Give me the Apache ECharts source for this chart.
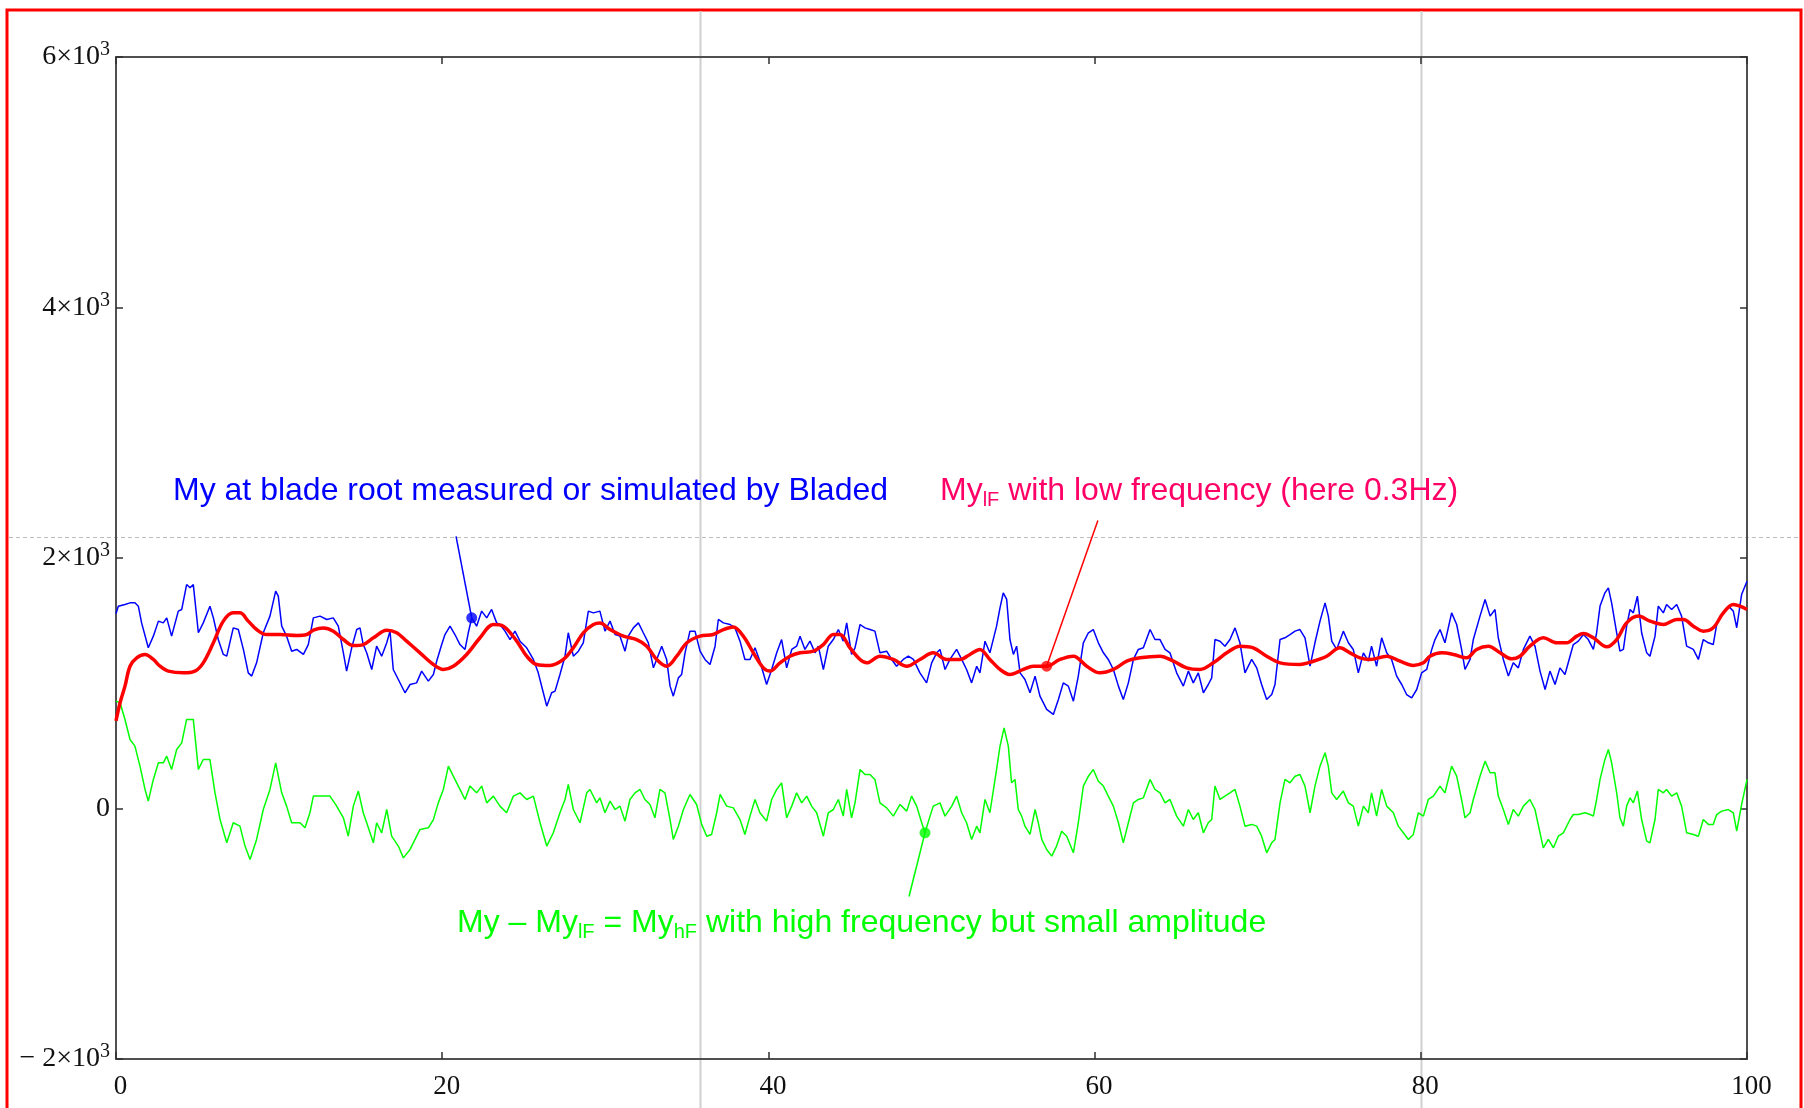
<!DOCTYPE html>
<html>
<head>
<meta charset="utf-8">
<script src="https://cdn.jsdelivr.net/npm/echarts@6/dist/echarts.min.js"></script>
<style>
  html, body { margin: 0; padding: 0; background: #fff; }
  #chart { width: 1804px; height: 1108px; }
</style>
</head>
<body>
<div id="chart"></div>
<script>
// My at blade root (measured / Bladed), time in s
const blueTime = [
  0, 0.14, 0.55, 0.86, 1.16, 1.37, 1.57, 1.98, 2.29, 2.6, 2.9, 3.11, 3.41, 3.82, 4.03, 4.33, 4.54, 4.74, 5.05, 5.35,
  5.76, 5.97, 6.27, 6.58, 6.79, 7.19, 7.5, 7.81, 8.11, 8.32, 8.62, 9.03, 9.44, 9.79, 9.95, 10.16, 10.46, 10.77, 11.08, 11.49,
  11.79, 12.1, 12.51, 12.92, 13.32, 13.63, 13.94, 14.14, 14.45, 14.76, 14.96, 15.16, 15.37, 15.68, 15.98, 16.29, 16.6, 16.8, 17.0, 17.31,
  17.72, 18.03, 18.43, 18.74, 19.15, 19.46, 19.66, 19.97, 20.17, 20.48, 20.78, 21.09, 21.4, 21.6, 21.81, 22.11, 22.42, 22.73, 23.03, 23.34,
  23.54, 23.85, 24.16, 24.46, 24.77, 25.18, 25.59, 25.89, 26.2, 26.41, 26.71, 26.92, 27.22, 27.53, 27.73, 28.04, 28.35, 28.65, 28.96, 29.27,
  29.67, 29.98, 30.29, 30.6, 30.9, 31.21, 31.41, 31.72, 32.03, 32.33, 32.64, 32.95, 33.15, 33.46, 33.76, 33.97, 34.17, 34.48, 34.68, 34.89,
  35.19, 35.5, 35.81, 36.11, 36.42, 36.73, 36.93, 37.24, 37.65, 37.95, 38.26, 38.56, 38.87, 39.18, 39.48, 39.89, 40.2, 40.51, 40.81, 41.12,
  41.43, 41.73, 41.94, 42.24, 42.55, 42.86, 43.06, 43.37, 43.67, 43.98, 44.29, 44.59, 44.8, 45.1, 45.31, 45.62, 45.92, 46.23, 46.53, 46.84,
  47.25, 47.56, 47.86, 48.27, 48.58, 48.89, 49.29, 49.7, 50.01, 50.32, 50.52, 50.83, 51.13, 51.54, 51.85, 52.15, 52.46, 52.77, 52.97, 53.28,
  53.58, 53.99, 54.2, 54.4, 54.61, 54.81, 55.02, 55.22, 55.43, 55.73, 56.04, 56.35, 56.65, 57.06, 57.47, 57.78, 58.08, 58.39, 58.7, 59.0,
  59.31, 59.62, 59.92, 60.23, 60.54, 60.84, 61.15, 61.46, 61.76, 62.07, 62.38, 62.68, 62.99, 63.4, 63.7, 64.01, 64.32, 64.62, 65.03, 65.44,
  65.75, 66.05, 66.36, 66.67, 66.97, 67.18, 67.38, 67.69, 67.99, 68.3, 68.61, 68.91, 69.22, 69.63, 69.94, 70.24, 70.55, 70.86, 71.06, 71.37,
  71.67, 71.98, 72.29, 72.59, 72.9, 73.21, 73.51, 73.82, 74.13, 74.33, 74.54, 74.84, 75.25, 75.56, 75.86, 76.17, 76.48, 76.78, 76.98, 77.29,
  77.6, 77.91, 78.21, 78.52, 78.83, 79.13, 79.44, 79.75, 80.05, 80.36, 80.67, 80.87, 81.18, 81.48, 81.89, 82.2, 82.5, 82.71, 83.02, 83.22,
  83.63, 83.94, 84.25, 84.55, 84.75, 85.06, 85.37, 85.67, 85.98, 86.29, 86.69, 87.0, 87.31, 87.62, 87.92, 88.23, 88.53, 88.84, 89.15, 89.35,
  89.66, 89.97, 90.27, 90.58, 90.78, 90.99, 91.29, 91.5, 91.7, 92.01, 92.21, 92.42, 92.62, 92.83, 93.03, 93.28, 93.54, 93.85, 94.05, 94.36,
  94.56, 94.87, 95.07, 95.38, 95.69, 95.99, 96.3, 96.71, 97.02, 97.32, 97.63, 97.93, 98.14, 98.45, 98.86, 99.16, 99.37, 99.67, 100
];
const blueMy = [
  1555, 1615, 1629, 1642, 1642, 1615, 1482, 1283, 1376, 1496, 1482, 1522, 1376, 1576, 1589, 1788, 1762, 1788, 1403, 1482,
  1615, 1522, 1349, 1230, 1216, 1442, 1429, 1270, 1083, 1057, 1163, 1403, 1536, 1735, 1695, 1456, 1376, 1256, 1270, 1230,
  1309, 1522, 1536, 1509, 1522, 1456, 1243, 1097, 1283, 1429, 1442, 1309, 1243, 1110, 1296, 1216, 1323, 1416, 1110, 1030,
  924, 990, 1003, 1097, 1017, 1070, 1176, 1309, 1389, 1456, 1389, 1309, 1270, 1403, 1522, 1456, 1576, 1522, 1589, 1482,
  1469, 1416, 1349, 1416, 1336, 1283, 1190, 1083, 924, 817, 924, 937, 1070, 1216, 1403, 1216, 1256, 1323, 1576, 1562,
  1576, 1416, 1496, 1389, 1376, 1256, 1376, 1442, 1482, 1403, 1323, 1123, 1190, 1296, 1190, 977, 897, 1043, 1070, 1243,
  1416, 1416, 1256, 1190, 1150, 1296, 1509, 1482, 1469, 1442, 1336, 1190, 1190, 1283, 1176, 990, 1110, 1243, 1349, 1123,
  1270, 1296, 1376, 1270, 1336, 1243, 1296, 1110, 1296, 1349, 1429, 1336, 1482, 1230, 1283, 1469, 1442, 1429, 1416, 1243,
  1256, 1190, 1136, 1190, 1216, 1190, 1083, 1003, 1163, 1243, 1270, 1110, 1190, 1270, 1190, 1110, 1003, 1136, 1083, 1336,
  1243, 1456, 1602, 1722, 1669, 1349, 1230, 1296, 1083, 1030, 924, 1057, 897, 791, 751, 870, 1003, 977, 857, 1057,
  1323, 1403, 1429, 1323, 1243, 1190, 1110, 977, 870, 1003, 1190, 1270, 1283, 1429, 1349, 1349, 1270, 1243, 1083, 977,
  1097, 1003, 1083, 924, 990, 1043, 1349, 1336, 1296, 1349, 1442, 1323, 1083, 1190, 1123, 990, 870, 910, 990, 1349,
  1363, 1389, 1416, 1429, 1363, 1136, 1323, 1496, 1642, 1536, 1336, 1270, 1416, 1323, 1270, 1083, 1243, 1176, 1296, 1136,
  1363, 1243, 1190, 1057, 990, 910, 884, 950, 1083, 1110, 1270, 1349, 1429, 1323, 1562, 1469, 1270, 1110, 1190, 1349,
  1536, 1669, 1536, 1589, 1363, 1190, 1057, 1163, 1123, 1270, 1376, 1296, 1097, 950, 1097, 990, 1123, 1070, 1216, 1309,
  1336, 1389, 1349, 1270, 1403, 1616, 1722, 1762, 1642, 1403, 1256, 1270, 1456, 1589, 1562, 1695, 1403, 1243, 1216, 1376,
  1616, 1562, 1629, 1589, 1629, 1536, 1296, 1270, 1190, 1349, 1323, 1309, 1469, 1549, 1616, 1576, 1443, 1709, 1815
];

// My_lF, low-pass part (0.3 Hz)
const redTime = [
  0, 0.25, 0.55, 0.86, 1.27, 1.78, 2.29, 2.7, 3.21, 4.13, 4.84, 5.35, 5.97, 6.58, 7.19, 7.6, 8.11, 8.62, 9.24, 10.06,
  11.08, 11.69, 12.1, 12.71, 13.33, 13.94, 14.55, 15.16, 15.78, 16.6, 17.21, 17.82, 18.64, 19.46, 20.07, 20.68, 21.5, 22.32, 23.14, 23.75,
  24.57, 25.18, 25.79, 26.61, 27.43, 28.04, 28.65, 29.27, 29.67, 30.29, 31.11, 31.92, 32.54, 33.15, 33.76, 34.38, 35.0, 35.81, 36.62, 37.24,
  37.85, 38.46, 39.08, 39.69, 40.1, 40.71, 41.32, 41.94, 42.76, 43.37, 43.98, 44.39, 45.0, 45.62, 46.03, 46.84, 47.66, 48.48, 49.29, 50.11,
  50.93, 51.75, 52.36, 52.97, 53.58, 54.2, 54.81, 55.63, 56.24, 57.06, 57.88, 58.7, 59.52, 60.33, 61.15, 61.97, 62.78, 64.01, 64.83, 65.64,
  66.46, 67.28, 68.1, 68.92, 69.73, 70.55, 71.37, 72.59, 73.41, 74.23, 75.04, 75.66, 76.27, 76.89, 77.91, 78.73, 79.54, 80.16, 80.56, 81.28,
  82.0, 82.81, 83.42, 84.14, 84.86, 85.58, 86.08, 86.69, 87.52, 88.33, 88.94, 89.56, 89.97, 90.58, 91.4, 92.01, 92.62, 93.34, 94.05, 94.87,
  95.69, 96.1, 96.71, 97.32, 97.93, 98.55, 99.16, 99.57, 100
];
const redMyLF = [
  700, 844, 977, 1136, 1203, 1230, 1190, 1136, 1097, 1083, 1097, 1163, 1323, 1496, 1562, 1562, 1496, 1429, 1389, 1389,
  1381, 1389, 1424, 1442, 1416, 1349, 1301, 1309, 1363, 1424, 1403, 1336, 1243, 1150, 1110, 1136, 1230, 1363, 1469, 1456,
  1336, 1216, 1150, 1142, 1190, 1283, 1403, 1469, 1482, 1429, 1376, 1349, 1296, 1190, 1136, 1216, 1323, 1376, 1389, 1429,
  1450, 1376, 1243, 1123, 1097, 1163, 1216, 1243, 1256, 1309, 1389, 1389, 1283, 1190, 1163, 1216, 1190, 1136, 1190, 1243,
  1190, 1190, 1230, 1270, 1190, 1110, 1070, 1110, 1136, 1136, 1190, 1216, 1136, 1083, 1110, 1176, 1203, 1216, 1176, 1123,
  1110, 1163, 1243, 1296, 1283, 1216, 1163, 1150, 1176, 1216, 1283, 1243, 1203, 1190, 1216, 1176, 1142, 1163, 1216, 1243,
  1230, 1203, 1270, 1296, 1243, 1195, 1216, 1296, 1363, 1323, 1323, 1376, 1397, 1363, 1291, 1349, 1482, 1536, 1496, 1469,
  1509, 1509, 1456, 1416, 1443, 1562, 1629, 1616, 1589
];

// My - My_lF = My_hF, high-frequency part
const greenTime = [
  0, 0.25, 0.55, 0.86, 1.16, 1.47, 1.78, 1.98, 2.29, 2.6, 2.9, 3.11, 3.41, 3.72, 4.03, 4.33, 4.74, 5.05, 5.35, 5.76,
  6.07, 6.38, 6.79, 7.19, 7.6, 7.91, 8.22, 8.62, 9.03, 9.44, 9.79, 10.16, 10.46, 10.77, 11.28, 11.59, 11.89, 12.1, 12.51, 13.12,
  13.53, 13.94, 14.24, 14.55, 14.86, 15.16, 15.37, 15.78, 15.98, 16.29, 16.6, 16.9, 17.31, 17.62, 18.03, 18.64, 19.15, 19.46, 19.76, 20.07,
  20.38, 20.68, 21.09, 21.4, 21.7, 22.11, 22.42, 22.73, 23.14, 23.54, 23.95, 24.36, 24.77, 25.18, 25.59, 26.0, 26.41, 26.81, 27.22, 27.53,
  27.73, 28.04, 28.45, 28.86, 29.06, 29.47, 29.67, 29.98, 30.29, 30.6, 30.9, 31.21, 31.51, 31.82, 32.13, 32.43, 32.74, 33.04, 33.35, 33.66,
  33.97, 34.17, 34.48, 34.79, 35.19, 35.6, 35.91, 36.22, 36.52, 36.83, 37.04, 37.44, 37.85, 38.26, 38.56, 38.87, 39.18, 39.48, 39.89, 40.2,
  40.51, 40.81, 41.12, 41.43, 41.73, 42.04, 42.35, 42.65, 42.96, 43.37, 43.67, 43.98, 44.29, 44.59, 44.8, 45.1, 45.31, 45.62, 45.92, 46.23,
  46.53, 46.84, 47.25, 47.66, 48.07, 48.48, 48.78, 49.09, 49.4, 49.6, 49.91, 50.11, 50.52, 50.83, 51.24, 51.54, 51.85, 52.15, 52.46, 52.77,
  52.97, 53.28, 53.58, 53.99, 54.2, 54.45, 54.71, 54.91, 55.12, 55.32, 55.53, 55.73, 56.04, 56.35, 56.55, 56.76, 57.06, 57.37, 57.67, 57.98,
  58.29, 58.7, 59.0, 59.31, 59.62, 59.92, 60.23, 60.54, 60.84, 61.15, 61.46, 61.76, 62.07, 62.38, 62.68, 62.99, 63.4, 63.7, 64.01, 64.32,
  64.62, 65.03, 65.44, 65.75, 66.05, 66.36, 66.67, 66.97, 67.18, 67.38, 67.69, 67.99, 68.3, 68.61, 68.91, 69.22, 69.63, 69.94, 70.24, 70.55,
  70.86, 71.06, 71.37, 71.67, 71.98, 72.29, 72.59, 72.9, 73.21, 73.51, 73.82, 74.13, 74.33, 74.54, 74.84, 75.25, 75.56, 75.86, 76.17, 76.48,
  76.78, 76.98, 77.29, 77.6, 77.91, 78.32, 78.62, 78.93, 79.24, 79.54, 79.85, 80.16, 80.46, 80.77, 81.18, 81.48, 81.89, 82.2, 82.5, 82.71,
  83.02, 83.22, 83.63, 83.94, 84.25, 84.55, 84.75, 85.06, 85.37, 85.67, 85.98, 86.29, 86.69, 87.0, 87.31, 87.51, 87.82, 88.13, 88.43, 88.74,
  89.15, 89.35, 89.66, 90.07, 90.38, 90.58, 90.78, 90.99, 91.29, 91.5, 91.7, 92.01, 92.21, 92.42, 92.62, 92.83, 93.03, 93.28, 93.54, 93.85,
  94.05, 94.36, 94.56, 94.87, 95.07, 95.38, 95.69, 95.99, 96.3, 96.71, 97.02, 97.32, 97.63, 97.93, 98.14, 98.45, 98.86, 99.16, 99.37, 99.67,
  100
];
const greenMyHF = [
  857, 844, 711, 551, 498, 338, 152, 59, 232, 365, 365, 418, 312, 471, 524, 711, 711, 312, 391, 391,
  125, -88, -274, -114, -141, -300, -407, -247, -8, 152, 365, 125, 19, -114, -114, -154, -34, 99, 99, 99,
  19, -74, -221, 19, 139, -34, -114, -274, -114, -194, -8, -221, -300, -394, -327, -167, -154, -88, 45, 152,
  338, 258, 152, 72, 179, 125, 179, 45, 99, 19, -34, 99, 125, 72, 99, -114, -300, -194, -34, 72,
  192, -8, -114, 125, 152, 45, 85, -34, 59, -8, 19, -101, 72, 125, 152, 72, 32, -74, 152, 125,
  -88, -247, -141, -8, 112, 32, -127, -221, -207, -34, 112, 19, 5, -88, -207, -61, 72, -34, -101, 72,
  152, 205, -74, 19, 125, 45, 99, 19, -34, -221, -34, -8, 72, -61, 152, -74, 45, 312, 272, 272,
  232, 45, 5, -61, 32, -21, 99, 19, -114, -194, -61, 19, 45, -61, 19, 99, -34, -114, -247, -141,
  -194, 72, -34, 312, 498, 644, 498, 205, 232, -8, -61, -141, -207, -8, -114, -247, -327, -380, -300, -181,
  -221, -354, -114, 179, 258, 312, 218, 179, 99, 19, -114, -274, -114, 45, 72, 85, 232, 152, 125, 45,
  72, -61, -141, -8, -88, -34, -194, -114, -88, 179, 72, 99, 125, 152, 19, -141, -127, -141, -221, -354,
  -274, -247, 45, 232, 205, 258, 272, 179, -34, 179, 338, 445, 338, 125, 72, 139, 45, 19, -141, 19,
  -34, 125, -61, 152, 19, -34, -141, -194, -247, -207, -34, -61, 72, 99, 179, 125, 338, 258, 72, -74,
  -34, 72, 258, 378, 285, 285, 99, -8, -127, -8, -61, 19, 72, -8, -194, -314, -247, -314, -221, -194,
  -88, -48, -48, -34, -48, -61, 72, 232, 392, 471, 365, 125, -74, -141, 19, 85, 45, 139, -88, -261,
  -274, -88, 152, 125, 152, 99, 125, 19, -194, -207, -221, -88, -127, -127, -48, -21, -8, -34, -181, 32,
  232
];

// annotation pointers: [start on curve, end near text]
const blueNote = [[21.81, 1522], [20.85, 2172]];
const redNote = [[57.06, 1136], [60.2, 2299]];
const greenNote = [[49.6, -194], [48.62, -703]];

const chart = echarts.init(document.getElementById('chart'));
const pairs = (ts, vs) => ts.map((t, i) => [t, vs[i]]);

const serif = '"Liberation Serif", "Times New Roman", serif';
const sans = '"Liberation Sans", Arial, sans-serif';
const frame = { show: true, onZero: false, lineStyle: { color: '#505050', width: 2 } };
const ticks = { show: true, inside: true, length: 7, lineStyle: { color: '#303030', width: 1.5 } };

function yLabel(v) {
  if (v === 0) return '{m|0}';
  return '{m|' + (v < 0 ? '\u2212 ' : '') + Math.abs(v) / 1000 + '\u00d710}{s|3}';
}

function note(points, color) {
  return {
    type: 'line', data: points, showSymbol: false, silent: true, z: 4,
    lineStyle: { color: color, width: 1.5 }
  };
}
function dot(point, color) {
  return {
    type: 'scatter', data: [point], symbolSize: 11, silent: true, z: 5,
    itemStyle: { color: color }
  };
}

const main = { fontFamily: sans, fontSize: 32, lineHeight: 38 };
const sub = { fontFamily: sans, fontSize: 20, lineHeight: 16, verticalAlign: 'bottom' };

chart.setOption({
  animation: false,
  backgroundColor: '#ffffff',
  grid: { left: 116, right: 57, top: 57, bottom: 49 },
  xAxis: [
    {
      type: 'value', min: 0, max: 100, interval: 20,
      axisLine: frame, axisTick: ticks, splitLine: { show: false },
      axisLabel: { fontFamily: serif, fontSize: 27, color: '#111', margin: 14, padding: [0, 0, 0, 9] }
    },
    {
      type: 'value', position: 'top', min: 0, max: 100, interval: 20,
      axisLine: frame, axisTick: ticks, splitLine: { show: false }, axisLabel: { show: false }
    }
  ],
  yAxis: [
    {
      type: 'value', min: -2000, max: 6000, interval: 2000,
      axisLine: frame, axisTick: ticks, splitLine: { show: false },
      axisLabel: {
        margin: 6, formatter: yLabel,
        rich: {
          m: { fontFamily: serif, fontSize: 28, color: '#111', lineHeight: 34 },
          s: { fontFamily: serif, fontSize: 20, color: '#111', lineHeight: 20, verticalAlign: 'top' }
        }
      }
    },
    {
      type: 'value', position: 'right', min: -2000, max: 6000, interval: 2000,
      axisLine: frame, axisTick: ticks, splitLine: { show: false }, axisLabel: { show: false }
    }
  ],
  graphic: [
    { type: 'rect', silent: true, shape: { x: 7, y: 10, width: 1794, height: 1130 },
      style: { fill: null, stroke: '#ff0000', lineWidth: 3 } },
    { type: 'line', silent: true, shape: { x1: 700.5, y1: 11, x2: 700.5, y2: 1108 },
      style: { stroke: '#cfcfcf', lineWidth: 2 } },
    { type: 'line', silent: true, shape: { x1: 1421.5, y1: 11, x2: 1421.5, y2: 1108 },
      style: { stroke: '#cfcfcf', lineWidth: 2 } },
    { type: 'line', silent: true, shape: { x1: 9, y1: 537.5, x2: 1800, y2: 537.5 },
      style: { stroke: '#bdbdbd', lineWidth: 1, lineDash: [4, 3] } },
    { type: 'text', silent: true, x: 173, y: 491, z: 10,
      style: { text: 'My at blade root measured or simulated by Bladed', fill: '#0000ff',
        font: '32px "Liberation Sans", Arial, sans-serif', verticalAlign: 'middle' } },
    { type: 'text', silent: true, x: 940, y: 491, z: 10,
      style: { text: '{a|My}{b|lF}{a| with low frequency (here 0.3Hz)}', fill: '#ff0066', verticalAlign: 'middle',
        rich: { a: main, b: sub } } },
    { type: 'text', silent: true, x: 457, y: 923, z: 10,
      style: { text: '{a|My \u2013 My}{b|lF}{a| = My}{b|hF}{a| with high frequency but small amplitude}', fill: '#00ff00',
        verticalAlign: 'middle', rich: { a: main, b: sub } } }
  ],
  series: [
    {
      name: 'My_hF', type: 'line', data: pairs(greenTime, greenMyHF), showSymbol: false, z: 2,
      lineStyle: { color: '#00ff00', width: 1.5 }
    },
    {
      name: 'My', type: 'line', data: pairs(blueTime, blueMy), showSymbol: false, z: 2,
      lineStyle: { color: '#0000ff', width: 1.5 }
    },
    {
      name: 'My_lF', type: 'line', data: pairs(redTime, redMyLF), showSymbol: false, smooth: 0.35, z: 3,
      lineStyle: { color: '#ff0000', width: 3.5 }
    },
    note(blueNote, '#0000ff'),
    note(redNote, '#ff0000'),
    note(greenNote, '#00ff00'),
    dot(blueNote[0], '#0000ff'),
    dot(redNote[0], '#ff0000'),
    dot(greenNote[0], '#00ff00')
  ]
});
</script>
</body>
</html>
